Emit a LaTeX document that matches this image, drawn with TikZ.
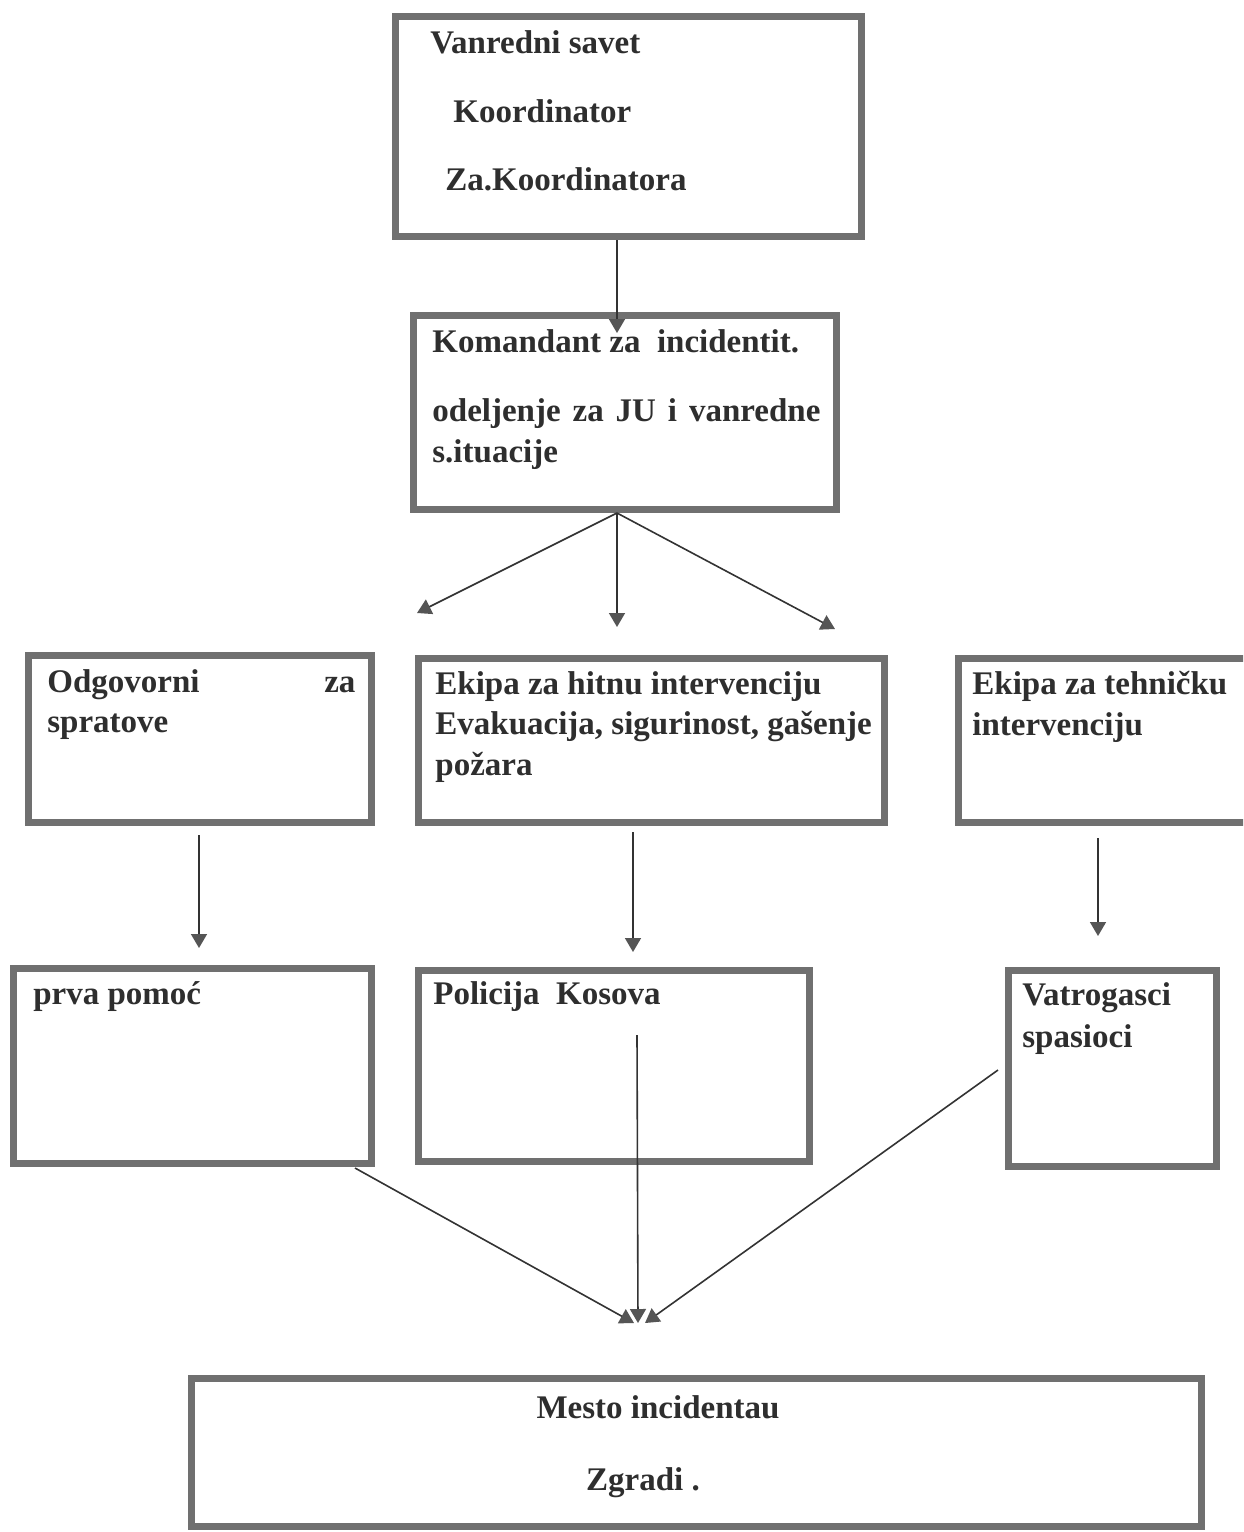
\documentclass[tikz,border=0pt]{standalone}
\usepackage{fontspec}
\setmainfont{Liberation Serif}[BoldFont={Liberation Serif Bold}]
\usetikzlibrary{arrows.meta,fit}
\definecolor{boxgray}{HTML}{707070}
\definecolor{linegray}{HTML}{333333}
\definecolor{tipgray}{HTML}{555555}
\definecolor{txtgray}{HTML}{2E2E2E}
\tikzset{
 frame/.style={draw=boxgray, line width=3pt, inner sep=0pt, fill=white},
 innerline/.style={draw=boxgray, line width=0.7pt},
 lbl/.style={anchor=base west, inner sep=0pt, font=\fontsize{16.5}{20}\selectfont\bfseries, text=txtgray},
 clbl/.style={lbl, anchor=base},
 conn/.style={draw=linegray, line width=0.8pt},
 arr/.style={conn, -{Triangle[width=8pt,length=7pt,fill=tipgray,color=tipgray]}},
}
\newcommand{\innerfr}[1]{\draw[innerline] ([shift={(3.3pt,-3.3pt)}]#1.north west) rectangle ([shift={(-3.3pt,3.3pt)}]#1.south east);}
\begin{document}
\begin{tikzpicture}[x=0.5pt,y=-0.5pt]
\clip (0,0) rectangle (1243,1532);
\fill[white] (0,0) rectangle (1243,1532);

% boxes
\node[frame, fit={(395,16) (862,237)}] (b1) {};
\node[frame, fit={(413,315) (837,510)}] (b2) {};
\node[frame, fit={(28,655) (372,823)}] (b3) {};
\node[frame, fit={(418,658) (885,823)}] (b4) {};
\node[frame, fit={(958,658) (1262,823)}] (b5) {};
\node[frame, fit={(13,968) (372,1164)}] (b6) {};
\node[frame, fit={(418,970) (810,1162)}] (b7) {};
\node[frame, fit={(1008,970) (1217,1167)}] (b8) {};
\node[frame, fit={(191,1378) (1202,1527)}] (b9) {};
\innerfr{b1}\innerfr{b2}\innerfr{b3}\innerfr{b4}\innerfr{b5}
\innerfr{b6}\innerfr{b7}\innerfr{b8}\innerfr{b9}

% texts
\node[lbl] (t1a) at (430,53) {Vanredni savet};
\node[lbl] (t1b) at (453,122) {Koordinator};
\node[lbl] (t1c) at (445,190) {Za.Koordinatora};

\node[lbl] (t2a) at (432,352) {Komandant za\ \ incidentit.};
\node[lbl] (t2b) at (432,421) {\makebox[194pt][s]{odeljenje za JU i vanredne}};
\node[lbl] (t2c) at (432,462) {s.ituacije};

\node[lbl] (t3a) at (47,692) {\makebox[154pt][s]{Odgovorni za}};
\node[lbl] (t3b) at (47,732) {spratove};

\node[lbl] (t4a) at (435,694) {Ekipa za hitnu intervenciju};
\node[lbl] (t4b) at (435,734) {Evakuacija, sigurinost, gašenje};
\node[lbl] (t4c) at (435,775) {požara};

\node[lbl] (t5a) at (972,694) {Ekipa za tehničku};
\node[lbl] (t5b) at (972,735) {intervenciju};

\node[lbl] (t6) at (33,1004) {prva pomoć};
\node[lbl] (t7) at (433,1004) {Policija\ \ Kosova};
\node[lbl] (t8a) at (1022,1005) {Vatrogasci};
\node[lbl] (t8b) at (1022,1047) {spasioci};

\node[clbl] (t9a) at (658,1418) {Mesto incidentau};
\node[clbl] (t9b) at (643,1490) {Zgradi .};

% connector ends
\coordinate (c1) at (617,333);
\coordinate (s2) at (617,513);
\coordinate (e2l) at (417,613);
\coordinate (e2m) at (617,627);
\coordinate (e2r) at (835,629);
\coordinate (s3) at (199,835);
\coordinate (e3) at (199,948);
\coordinate (s4) at (633,832);
\coordinate (e4) at (633,952);
\coordinate (s5) at (1098,838);
\coordinate (e5) at (1098,936);
\coordinate (s6) at (355,1168);
\coordinate (s7) at (637,1035);
\coordinate (s8) at (998,1070);
\coordinate (m1) at (634,1323);
\coordinate (m2) at (638,1323);
\coordinate (m3) at (645,1323);

\draw[arr] (b1.south -| 617,0) -- (c1);
\draw[arr] (s2) -- (e2l);
\draw[arr] (s2) -- (e2m);
\draw[arr] (s2) -- (e2r);
\draw[arr] (s3) -- (e3);
\draw[arr] (s4) -- (e4);
\draw[arr] (s5) -- (e5);
\draw[arr] (s6) -- (m1);
\draw[arr] (s7) -- (m2);
\draw[arr] (s8) -- (m3);
\end{tikzpicture}
\end{document}
